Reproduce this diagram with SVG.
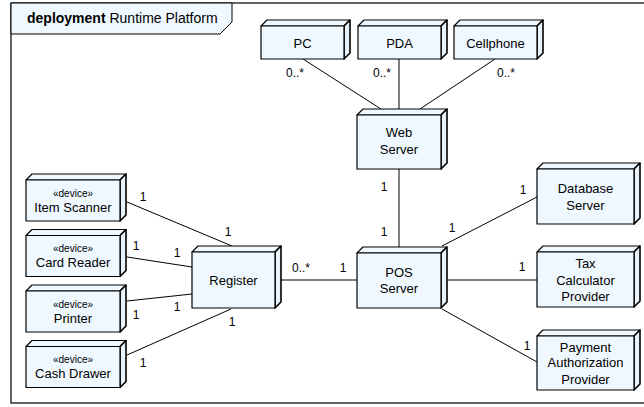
<svg xmlns="http://www.w3.org/2000/svg" width="644" height="407" viewBox="0 0 644 407">
<style>
.face{fill:#f0f8ff;stroke:#000;stroke-width:1.2;stroke-linejoin:round}
.side{fill:#e8f2fa;stroke:#000;stroke-width:1.6;stroke-linejoin:round}
.t{font-family:"Liberation Sans",Arial,sans-serif;font-size:13px;fill:#000;text-anchor:middle}
.s{font-family:"Liberation Sans",Arial,sans-serif;font-size:10px;fill:#000;text-anchor:middle}
.m{font-family:"Liberation Sans",Arial,sans-serif;font-size:12px;fill:#000;text-anchor:middle}
.c line{stroke:#000;stroke-width:1}
</style>
<rect x="0" y="0" width="644" height="407" fill="#fff"/>
<g id="frame">
<rect x="11" y="3" width="660" height="400" fill="#fff" stroke="#000" stroke-width="1.2"/>
<path d="M11,3 H232 V22 L220,34 H11 Z" fill="#f0f8ff" stroke="#000" stroke-width="1"/>
<text x="27" y="23" font-family="'Liberation Sans',Arial,sans-serif" font-size="14"><tspan font-weight="bold">deployment</tspan> Runtime Platform</text>
</g>
<g class="c" id="connectors">
<line x1="303" y1="59" x2="381" y2="109"/>
<line x1="399" y1="59" x2="399" y2="109"/>
<line x1="495" y1="59" x2="420" y2="109"/>
<line x1="399" y1="169" x2="399" y2="247"/>
<line x1="275" y1="280" x2="357" y2="280"/>
<line x1="442" y1="246" x2="537" y2="197"/>
<line x1="441" y1="280" x2="537" y2="280"/>
<line x1="442" y1="309" x2="537" y2="362"/>
<line x1="127" y1="202" x2="232" y2="246"/>
<line x1="127" y1="257" x2="192" y2="267"/>
<line x1="127" y1="301" x2="192" y2="294"/>
<line x1="127" y1="355" x2="231" y2="309"/>
<text class="m" x="295" y="77">0..*</text>
<text class="m" x="382" y="77">0..*</text>
<text class="m" x="506" y="77">0..*</text>
<text class="m" x="384" y="191">1</text>
<text class="m" x="384" y="236">1</text>
<text class="m" x="301" y="272">0..*</text>
<text class="m" x="343" y="272">1</text>
<text class="m" x="523" y="194">1</text>
<text class="m" x="452" y="232">1</text>
<text class="m" x="522" y="271">1</text>
<text class="m" x="527" y="350">1</text>
<text class="m" x="143" y="201">1</text>
<text class="m" x="228" y="236">1</text>
<text class="m" x="136" y="250">1</text>
<text class="m" x="177" y="257">1</text>
<text class="m" x="136" y="319">1</text>
<text class="m" x="177" y="311">1</text>
<text class="m" x="143" y="367">1</text>
<text class="m" x="232" y="326">1</text>
</g>
<g id="pc">
<polygon class="face" points="261,26 267,20 350,20 344,26"/>
<polygon class="side" points="344,26 350,20 350,53 344,59"/>
<rect class="face" x="261" y="26" width="83" height="33"/>
<text class="t" x="302.5" y="47.5">PC</text>
</g>
<g id="pda">
<polygon class="face" points="358,26 364,20 447,20 441,26"/>
<polygon class="side" points="441,26 447,20 447,53 441,59"/>
<rect class="face" x="358" y="26" width="83" height="33"/>
<text class="t" x="399.5" y="47.5">PDA</text>
</g>
<g id="cellphone">
<polygon class="face" points="454,26 460,20 543,20 537,26"/>
<polygon class="side" points="537,26 543,20 543,53 537,59"/>
<rect class="face" x="454" y="26" width="83" height="33"/>
<text class="t" x="495.5" y="47.5">Cellphone</text>
</g>
<g id="webserver">
<polygon class="face" points="357,115 363,109 447,109 441,115"/>
<polygon class="side" points="441,115 447,109 447,163 441,169"/>
<rect class="face" x="357" y="115" width="84" height="54"/>
<text class="t" x="399" y="137">Web</text>
<text class="t" x="399" y="154">Server</text>
</g>
<g id="posserver">
<polygon class="face" points="357,253 363,247 447,247 441,253"/>
<polygon class="side" points="441,253 447,247 447,302 441,308"/>
<rect class="face" x="357" y="253" width="84" height="55"/>
<text class="t" x="399" y="277">POS</text>
<text class="t" x="399" y="293">Server</text>
</g>
<g id="register">
<polygon class="face" points="192,252 198,246 281,246 275,252"/>
<polygon class="side" points="275,252 281,246 281,302 275,308"/>
<rect class="face" x="192" y="252" width="83" height="56"/>
<text class="t" x="233.5" y="284.5">Register</text>
</g>
<g id="itemscanner">
<polygon class="face" points="26,180 32,174 126,174 120,180"/>
<polygon class="side" points="120,180 126,174 126,215 120,221"/>
<rect class="face" x="26" y="180" width="94" height="41"/>
<text class="s" x="73" y="196.5">«device»</text>
<text class="t" x="73" y="211.5">Item Scanner</text>
</g>
<g id="cardreader">
<polygon class="face" points="26,235.5 32,229.5 126,229.5 120,235.5"/>
<polygon class="side" points="120,235.5 126,229.5 126,270.5 120,276.5"/>
<rect class="face" x="26" y="235.5" width="94" height="41"/>
<text class="s" x="73" y="252">«device»</text>
<text class="t" x="73" y="267">Card Reader</text>
</g>
<g id="printer">
<polygon class="face" points="26,291 32,285 126,285 120,291"/>
<polygon class="side" points="120,291 126,285 126,326 120,332"/>
<rect class="face" x="26" y="291" width="94" height="41"/>
<text class="s" x="73" y="307.5">«device»</text>
<text class="t" x="73" y="322.5">Printer</text>
</g>
<g id="cashdrawer">
<polygon class="face" points="26,346.5 32,340.5 126,340.5 120,346.5"/>
<polygon class="side" points="120,346.5 126,340.5 126,381.5 120,387.5"/>
<rect class="face" x="26" y="346.5" width="94" height="41"/>
<text class="s" x="73" y="363">«device»</text>
<text class="t" x="73" y="378">Cash Drawer</text>
</g>
<g id="databaseserver">
<polygon class="face" points="537,169 543,163 640,163 634,169"/>
<polygon class="side" points="634,169 640,163 640,218 634,224"/>
<rect class="face" x="537" y="169" width="97" height="55"/>
<text class="t" x="585.5" y="192.5">Database</text>
<text class="t" x="585.5" y="209.5">Server</text>
</g>
<g id="taxcalculator">
<polygon class="face" points="537,252 543,246 640,246 634,252"/>
<polygon class="side" points="634,252 640,246 640,301 634,307"/>
<rect class="face" x="537" y="252" width="97" height="55"/>
<text class="t" x="585.5" y="267.5">Tax</text>
<text class="t" x="585.5" y="284.5">Calculator</text>
<text class="t" x="585.5" y="300.5">Provider</text>
</g>
<g id="payment">
<polygon class="face" points="537,336 543,330 640,330 634,336"/>
<polygon class="side" points="634,336 640,330 640,384 634,390"/>
<rect class="face" x="537" y="336" width="97" height="54"/>
<text class="t" x="585.5" y="351.5">Payment</text>
<text class="t" x="585.5" y="367">Authorization</text>
<text class="t" x="585.5" y="383.5">Provider</text>
</g>
</svg>
